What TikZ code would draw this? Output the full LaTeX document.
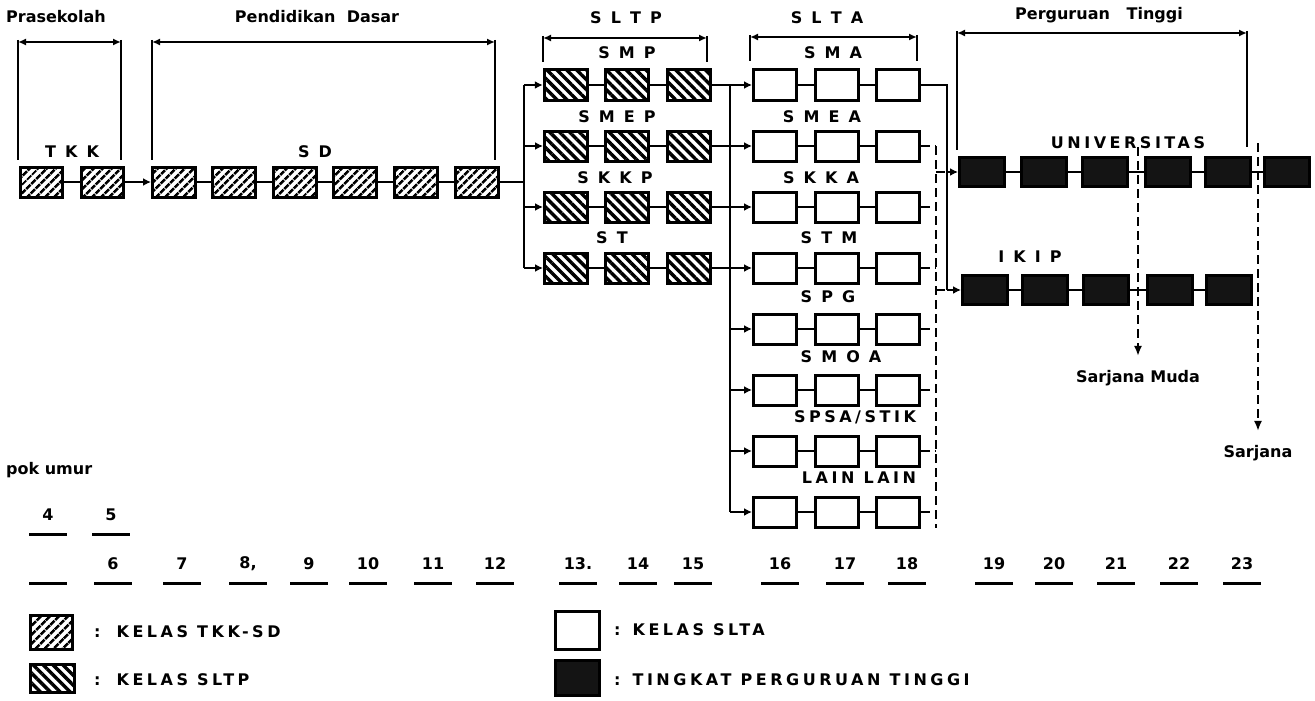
\documentclass[tikz,border=0pt]{standalone}
\usepackage{fontspec}
\setmainfont{DejaVu Sans}
\newfontfamily\labf[LetterSpace=22]{DejaVu Sans}
\usetikzlibrary{arrows.meta,patterns.meta,calc}
\begin{document}
\begin{tikzpicture}[x=1pt,y=-1pt,
  box/.style={draw, line width=3pt, minimum width=43pt, minimum height=30pt, inner sep=0pt},
  hatchA/.style={box, pattern={Lines[angle=45,distance=6.5pt,line width=3pt]}},
  hatchB/.style={box, pattern={Lines[angle=-45,distance=7pt,line width=3.4pt]}},
  sltabox/.style={box, fill=white},
  ptbox/.style={box, fill=black!92, draw=black, minimum width=45pt, minimum height=29pt},
  conn/.style={line width=2.6pt},
  arr/.style={conn, -{Latex[length=8pt,width=8pt]}},
  brk/.style={line width=2.6pt},
  brka/.style={brk, {Latex[length=8pt,width=7pt]}-{Latex[length=8pt,width=7pt]}},
  dsh/.style={line width=2.6pt, dash pattern=on 9pt off 5pt},
  dsharr/.style={dsh, -{Latex[length=10pt,width=8pt]}},
  hdr/.style={font=\fontsize{16}{18}\selectfont\bfseries, inner sep=0pt},
  lbl/.style={font=\labf\fontsize{16}{18}\selectfont\bfseries, inner sep=0pt},
  agenum/.style={font=\fontsize{16}{18}\selectfont\bfseries, inner sep=0pt},
  uline/.style={line width=3pt}
]
\useasboundingbox (0,0) rectangle (1315,701);

% ---------- headings ----------
\node[hdr, anchor=west] (hPra) at (6,17) {Prasekolah};
\node[hdr] (hPD) at (317,17) {Pendidikan~~Dasar};
\node[lbl] (hSLTP) at (626,18) {S L T P};
\node[lbl] (hSLTA) at (827,18) {S L T A};
\node[hdr] (hPT) at (1099,15) {Perguruan~~~Tinggi};

% ---------- brackets ----------
\coordinate (bPraL) at (18,42);  \coordinate (bPraR) at (121,42);
\coordinate (bPDL) at (152,42);  \coordinate (bPDR) at (495,42);
\coordinate (bSPL) at (543,38);  \coordinate (bSPR) at (707,38);
\coordinate (bSAL) at (750,37);  \coordinate (bSAR) at (917,37);
\coordinate (bPTL) at (957,33);  \coordinate (bPTR) at (1247,33);
\draw[brka] (bPraL) -- (bPraR);
\draw[brk] ($(bPraL)+(0,-2)$) -- ++(0,120);
\draw[brk] ($(bPraR)+(0,-2)$) -- ++(0,120);
\draw[brka] (bPDL) -- (bPDR);
\draw[brk] ($(bPDL)+(0,-2)$) -- ++(0,120);
\draw[brk] ($(bPDR)+(0,-2)$) -- ++(0,120);
\draw[brka] (bSPL) -- (bSPR);
\draw[brk] ($(bSPL)+(0,-2)$) -- ++(0,26);
\draw[brk] ($(bSPR)+(0,-2)$) -- ++(0,26);
\draw[brka] (bSAL) -- (bSAR);
\draw[brk] ($(bSAL)+(0,-2)$) -- ++(0,26);
\draw[brk] ($(bSAR)+(0,-2)$) -- ++(0,26);
\draw[brka] (bPTL) -- (bPTR);
\draw[brk] ($(bPTL)+(0,-2)$) -- ++(0,119);
\draw[brk] ($(bPTR)+(0,-2)$) -- ++(0,116);

% ---------- TKK / SD ----------
\node[lbl] (lTKK) at (72,152) {T K K};
\node[lbl] (lSD) at (315,152) {S D};
\node[hatchA, minimum width=42pt] (t1) at (41,182) {};
\node[hatchA, minimum width=42pt] (t2) at (102,182) {};
\foreach \n/\x in {1/174,2/234,3/295,4/355,5/416,6/477}
  \node[hatchA, minimum width=43pt] (d\n) at (\x,182) {};
\draw[conn] (t1) -- (t2);
\draw[arr] (t2) -- (d1);
\foreach \a/\b in {1/2,2/3,3/4,4/5,5/6} \draw[conn] (d\a) -- (d\b);

% ---------- SLTP ----------
\node[lbl] (lSMP) at (627,53) {S M P};
\node[lbl] (lSMEP) at (617,117) {S M E P};
\node[lbl] (lSKKP) at (615,178) {S K K P};
\node[lbl] (lST) at (612,238) {S T};
\foreach \r/\y in {1/85,2/146,3/207,4/268}{
  \node[hatchB] (p\r a) at (566,\y) {};
  \node[hatchB] (p\r b) at (627,\y) {};
  \node[hatchB] (p\r c) at (689,\y) {};
  \coordinate (pj\r) at (524,\y);
  \draw[conn] (p\r a) -- (p\r b);
  \draw[conn] (p\r b) -- (p\r c);
  \draw[arr] (pj\r) -- (p\r a);
}
\coordinate (pj0) at (524,182);
\draw[conn] (d6) -- (pj0);
\draw[conn] (pj1) -- (pj4);

% ---------- SLTA ----------
\node[lbl] (lSMA) at (833,53) {S M A};
\node[lbl] (lSMEA) at (822,117) {S M E A};
\node[lbl] (lSKKA) at (821,178) {S K K A};
\node[lbl] (lSTM) at (829,238) {S T M};
\node[lbl] (lSPG) at (828,297) {S P G};
\node[lbl] (lSMOA) at (841,357) {S M O A};
\node[lbl] (lSPSA) at (855,417) {SPSA/STIK};
\node[lbl] (lLAIN) at (859,478) {LAIN LAIN};
\foreach \r/\y in {1/85,2/146,3/207,4/268,5/329,6/390,7/451,8/512}{
  \node[sltabox] (a\r a) at (775,\y) {};
  \node[sltabox] (a\r b) at (837,\y) {};
  \node[sltabox] (a\r c) at (898,\y) {};
  \coordinate (aj\r) at (730,\y);
  \coordinate (dj\r) at (936,\y);
  \draw[conn] (a\r a) -- (a\r b);
  \draw[conn] (a\r b) -- (a\r c);
}
\draw[conn] (aj1) -- (aj8);
\draw[arr] (p1c) -- (a1a);
\foreach \r in {2,...,8} \draw[arr] (aj\r) -- (a\r a);
\foreach \r in {2,3,4} \draw[conn] (p\r c) -- (aj\r);

% ---------- to Perguruan Tinggi ----------
\coordinate (sj1) at (947,85);
\coordinate (sj2) at (947,172);
\coordinate (sj3) at (947,290);
\coordinate (dU) at (936,172);
\coordinate (dK) at (936,290);
\coordinate (dBot) at (936,528);
\draw[conn] (a1c) -- (sj1) -- (sj3);
\foreach \r in {2,...,8} \draw[dsh] (a\r c) -- (dj\r);
\draw[dsh] (dj2) -- (dBot);
\draw[dsh] (dU) -- (sj2);
\draw[dsh] (dK) -- (sj3);

\node[lbl] (lUNIV) at (1128,143) {UNIVERSITAS};
\node[lbl] (lIKIP) at (1030,257) {I K I P};
\foreach \n/\x in {1/982,2/1044,3/1105,4/1168,5/1228,6/1287}
  \node[ptbox] (u\n) at (\x,172) {};
\foreach \n/\x in {1/985,2/1045,3/1106,4/1170,5/1229}
  \node[ptbox] (k\n) at (\x,290) {};
\foreach \a/\b in {1/2,2/3,3/4,4/5,5/6} \draw[conn] (u\a) -- (u\b);
\foreach \a/\b in {1/2,2/3,3/4,4/5} \draw[conn] (k\a) -- (k\b);
\draw[arr] (sj2) -- (u1);
\draw[arr] (sj3) -- (k1);

\node[hdr] (smu) at (1138,378) {Sarjana Muda};
\node[hdr] (sar) at (1258,453) {Sarjana};
\coordinate (smT) at (1138,147);
\coordinate (sarT) at (1258,143);
\draw[dsharr, shorten >=14pt] (smT) -- (smu);
\draw[dsharr, shorten >=14pt] (sarT) -- (sar);

% ---------- ages ----------
\node[hdr, anchor=west] (pok) at (6,470) {pok umur};
\node[agenum] (n4) at (48,515) {4};
\node[agenum] (n5) at (111,515) {5};
\foreach \n in {4,5}
  \draw[uline] ($(n\n)+(-19,19)$) -- ($(n\n)+(19,19)$);
\coordinate (bl1) at (29,583);
\coordinate (bl2) at (67,583);
\draw[uline] (bl1) -- (bl2);
\foreach \n/\x/\t in {6/113/6,7/182/7,8/248/{8,},9/309/9,10/368/10,11/433/11,12/495/12,
  13/578/13.,14/638/14,15/693/15,16/780/16,17/845/17,18/907/18,
  19/994/19,20/1054/20,21/1116/21,22/1179/22,23/1242/23}{
  \node[agenum] (n\n) at (\x,564) {\t};
  \draw[uline] ($(n\n)+(-19,19)$) -- ($(n\n)+(19,19)$);
}

% ---------- legend ----------
\node[hatchA, minimum width=42pt, minimum height=34pt] (lg1) at (51,632) {};
\node[lbl, anchor=west] (lt1) at (94,632) {:\hspace{16pt}KELAS TKK-SD};
\node[hatchB, minimum width=44pt, minimum height=28pt] (lg2) at (52,678) {};
\node[lbl, anchor=west] (lt2) at (94,680) {:\hspace{16pt}KELAS SLTP};
\node[sltabox, minimum width=44pt, minimum height=38pt] (lg3) at (577,630) {};
\node[lbl, anchor=west] (lt3) at (614,630) {:\hspace{12pt}KELAS SLTA};
\node[ptbox, minimum width=44pt, minimum height=35pt] (lg4) at (577,678) {};
\node[lbl, anchor=west] (lt4) at (614,680) {:\hspace{12pt}TINGKAT PERGURUAN TINGGI};
\end{tikzpicture}
\end{document}
